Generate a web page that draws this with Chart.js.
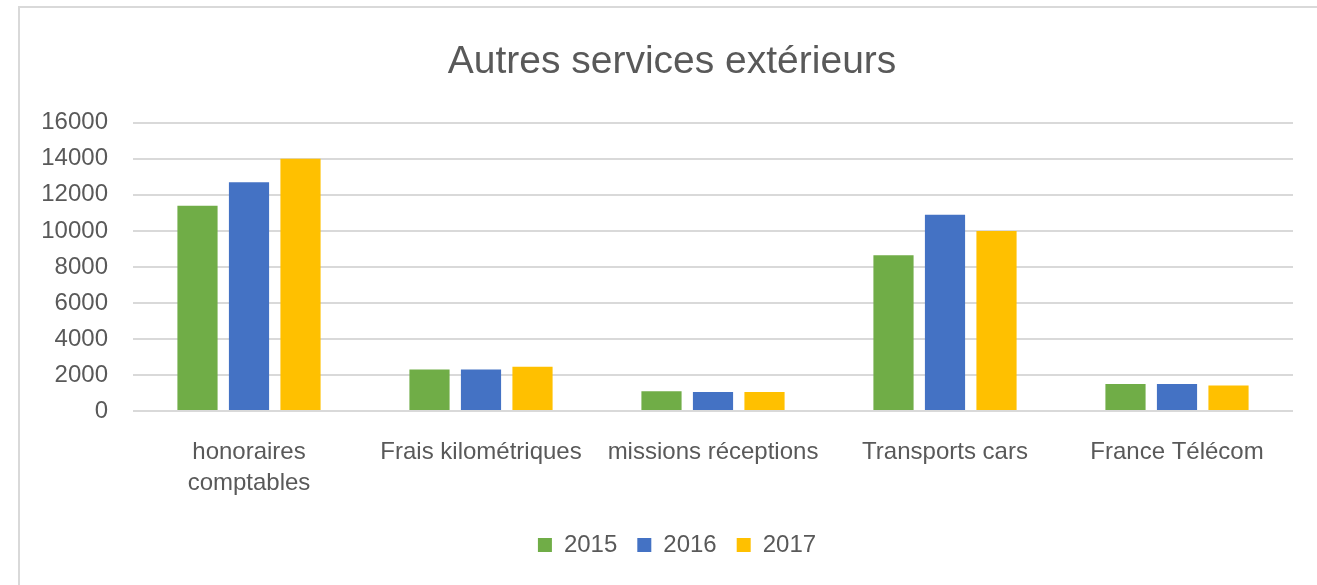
<!DOCTYPE html>
<html>
<head>
    <meta charset="UTF-8">
    <title>Autres services extérieurs</title>
    <script src="https://cdn.jsdelivr.net/npm/chart.js"></script>
    <style>
        html, body {
            margin: 0;
            padding: 0;
            background: #ffffff;
            overflow: hidden;
        }

        #frame {
            position: absolute;
            left: 18px;
            top: 6px;
            width: 1304px;
            height: 577px;
            border-left: 2px solid #d9d9d9;
            border-top: 2px solid #d9d9d9;
        }

        #chartBox {
            position: relative;
            width: 1304px;
            height: 577px;
        }
    </style>
</head>
<body>
<div id="frame">
    <div id="chartBox">
        <canvas id="servicesChart"></canvas>
    </div>
</div>

<script>
    // data
    var categories = [
        ['honoraires', 'comptables'],
        'Frais kilométriques',
        'missions réceptions',
        'Transports cars',
        'France Télécom'
    ];
    var years = ['2015', '2016', '2017'];
    var values2015 = [11400, 2300, 1100, 8650, 1500];
    var values2016 = [12700, 2300, 1050, 10900, 1500];
    var values2017 = [14000, 2450, 1050, 10000, 1420];
    var yTicks = [0, 2000, 4000, 6000, 8000, 10000, 12000, 14000, 16000];

    var textColor = '#595959';
    var fontFamily = '"Liberation Sans", Arial, sans-serif';

    function makeSet(label, data, color) {
        return {
            label: label,
            data: data,
            backgroundColor: color,
            borderWidth: 0,
            categoryPercentage: 0.666,
            barPercentage: 0.78
        };
    }

    // title and legend are centred on the whole frame, not on the padded box
    var shiftBlocks = {
        id: 'shiftBlocks',
        afterLayout: function (chart) {
            if (chart.titleBlock) {
                chart.titleBlock.left += 10.5;
                chart.titleBlock.right += 10.5;
            }
            if (chart.legend) {
                chart.legend.left += 15.5;
                chart.legend.right += 15.5;
            }
        }
    };

    var ctx = document.getElementById('servicesChart').getContext('2d');
    var servicesChart = new Chart(ctx, {
        type: 'bar',
        data: {
            labels: categories,
            datasets: [
                makeSet(years[0], values2015, '#70ad47'),
                makeSet(years[1], values2016, '#4472c4'),
                makeSet(years[2], values2017, '#ffc000')
            ]
        },
        plugins: [shiftBlocks],
        options: {
            responsive: true,
            maintainAspectRatio: false,
            animation: false,
            layout: {
                padding: { left: 10, right: 31, top: 0, bottom: 18 }
            },
            plugins: {
                title: {
                    display: true,
                    text: 'Autres services extérieurs',
                    color: textColor,
                    font: { family: fontFamily, size: 39, weight: 'normal', lineHeight: 1.2 },
                    padding: { top: 31, bottom: 37 }
                },
                legend: {
                    position: 'bottom',
                    labels: {
                        color: textColor,
                        font: { family: fontFamily, size: 24 },
                        boxWidth: 14,
                        boxHeight: 14,
                        padding: 20
                    }
                },
                tooltip: { enabled: false }
            },
            scales: {
                x: {
                    grid: { display: false },
                    border: { display: false },
                    ticks: {
                        color: textColor,
                        font: { family: fontFamily, size: 24, lineHeight: 1.3 },
                        padding: 18,
                        maxRotation: 0,
                        autoSkip: false
                    },
                    afterFit: function (scale) {
                        scale.height = 102;
                    }
                },
                y: {
                    min: 0,
                    max: 16000,
                    afterBuildTicks: function (scale) {
                        scale.ticks = yTicks.map(function (v) { return { value: v }; });
                    },
                    grid: {
                        color: '#d9d9d9',
                        lineWidth: 2,
                        drawTicks: false
                    },
                    border: { display: false },
                    ticks: {
                        color: textColor,
                        font: { family: fontFamily, size: 24 },
                        padding: 25,
                        callback: function (value) { return String(value); }
                    },
                    afterFit: function (scale) {
                        scale.width = 103;
                    }
                }
            }
        }
    });
</script>
</body>
</html>
